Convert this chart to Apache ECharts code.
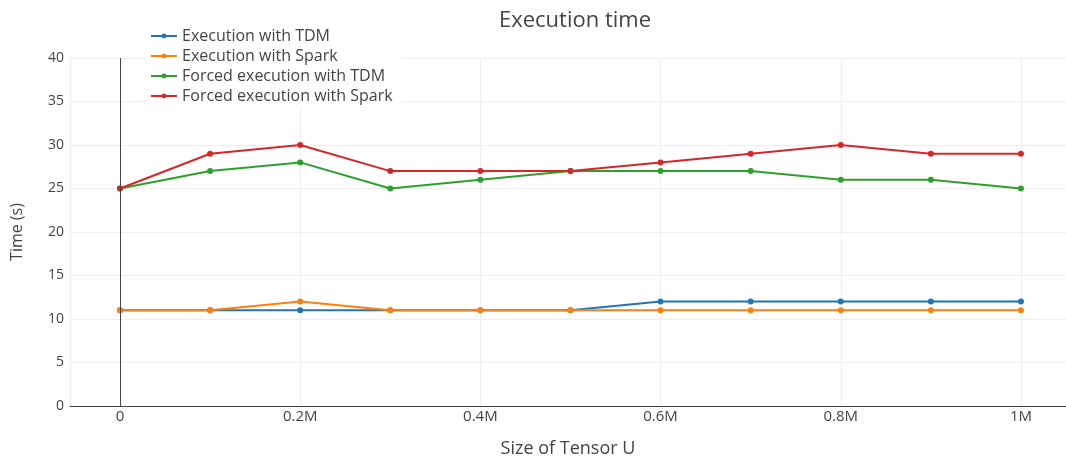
<!DOCTYPE html>
<html><head><meta charset="utf-8">
<script src="https://cdn.jsdelivr.net/npm/echarts@6/dist/echarts.min.js"></script>
<style>html,body{margin:0;padding:0;background:#fff;overflow:hidden}#c{width:1066px;height:458px}</style>
</head><body><div id="c"></div>
<script>
const sizes = [0, 100000, 200000, 300000, 400000, 500000, 600000, 700000, 800000, 900000, 1000000];
const execTDM = [11, 11, 11, 11, 11, 11, 12, 12, 12, 12, 12];
const execSpark = [11, 11, 12, 11, 11, 11, 11, 11, 11, 11, 11];
const forcedTDM = [25, 27, 28, 25, 26, 27, 27, 27, 26, 26, 25];
const forcedSpark = [25, 29, 30, 27, 27, 27, 28, 29, 30, 29, 29];
const seriesNames = ['Execution with TDM', 'Execution with Spark', 'Forced execution with TDM', 'Forced execution with Spark'];
const colors = ['#1f77b4', '#ff7f0e', '#2ca02c', '#d62728'];
const font = '"Open Sans", "Noto Sans", sans-serif';

function pairs(vals) { return sizes.map((s, i) => [s, vals[i]]); }
function fmtX(v) {
  if (v === 0) return '0';
  return (v / 1e6).toString() + 'M';
}
const allVals = [execTDM, execSpark, forcedTDM, forcedSpark];
const series = allVals.map((vals, i) => ({
  name: seriesNames[i],
  type: 'line',
  data: pairs(vals),
  symbol: 'circle',
  symbolSize: 6,
  lineStyle: { width: 2, color: colors[i] },
  itemStyle: { color: colors[i] },
  emphasis: { disabled: true },
  z: 3
}));
series[0].markLine = {
  silent: true, symbol: 'none', label: { show: false },
  lineStyle: { color: '#444', width: 1, type: 'solid' },
  data: [{ xAxis: 0 }]
};

const chart = echarts.init(document.getElementById('c'), null, { renderer: 'canvas' });
chart.setOption({
  animation: false,
  backgroundColor: '#fff',
  color: colors,
  title: {
    text: 'Execution time', left: 570, top: 5, textAlign: 'center',
    textStyle: { fontFamily: font, fontSize: 22, fontWeight: 'normal', color: '#444' }
  },
  legend: {
    orient: 'vertical', left: 146, top: 26, itemGap: 0, itemWidth: 26, itemHeight: 6,
    backgroundColor: '#fff', padding: [0, 8, 0, 4], z: 10,
    textStyle: { fontFamily: font, fontSize: 16, color: '#444', lineHeight: 20 },
    data: seriesNames
  },
  grid: { left: 70, right: 0, top: 58, bottom: 52, containLabel: false, outerBoundsMode: 'none' },
  xAxis: {
    type: 'value', min: -55500, max: 1050000, splitNumber: 5,
    name: 'Size of Tensor U', nameLocation: 'middle', nameGap: 34,
    nameTextStyle: { fontFamily: font, fontSize: 18, color: '#444' },
    axisLine: { show: true, onZero: false, lineStyle: { color: '#444', width: 1 } },
    axisTick: { show: false },
    axisLabel: { fontFamily: font, fontSize: 15, color: '#444', margin: 3, showMinLabel: false, showMaxLabel: false, formatter: fmtX },
    splitLine: { show: true, lineStyle: { color: '#eee', width: 1 } }
  },
  yAxis: {
    type: 'value', min: 0, max: 40, interval: 5,
    name: 'Time (s)', nameLocation: 'middle', nameGap: 45,
    nameTextStyle: { fontFamily: font, fontSize: 16, color: '#444' },
    axisLine: { show: false },
    axisTick: { show: false },
    axisLabel: { fontFamily: font, fontSize: 14, color: '#444', margin: 6 },
    splitLine: { show: true, lineStyle: { color: '#eee', width: 1 } }
  },
  series: series
});
</script></body></html>
